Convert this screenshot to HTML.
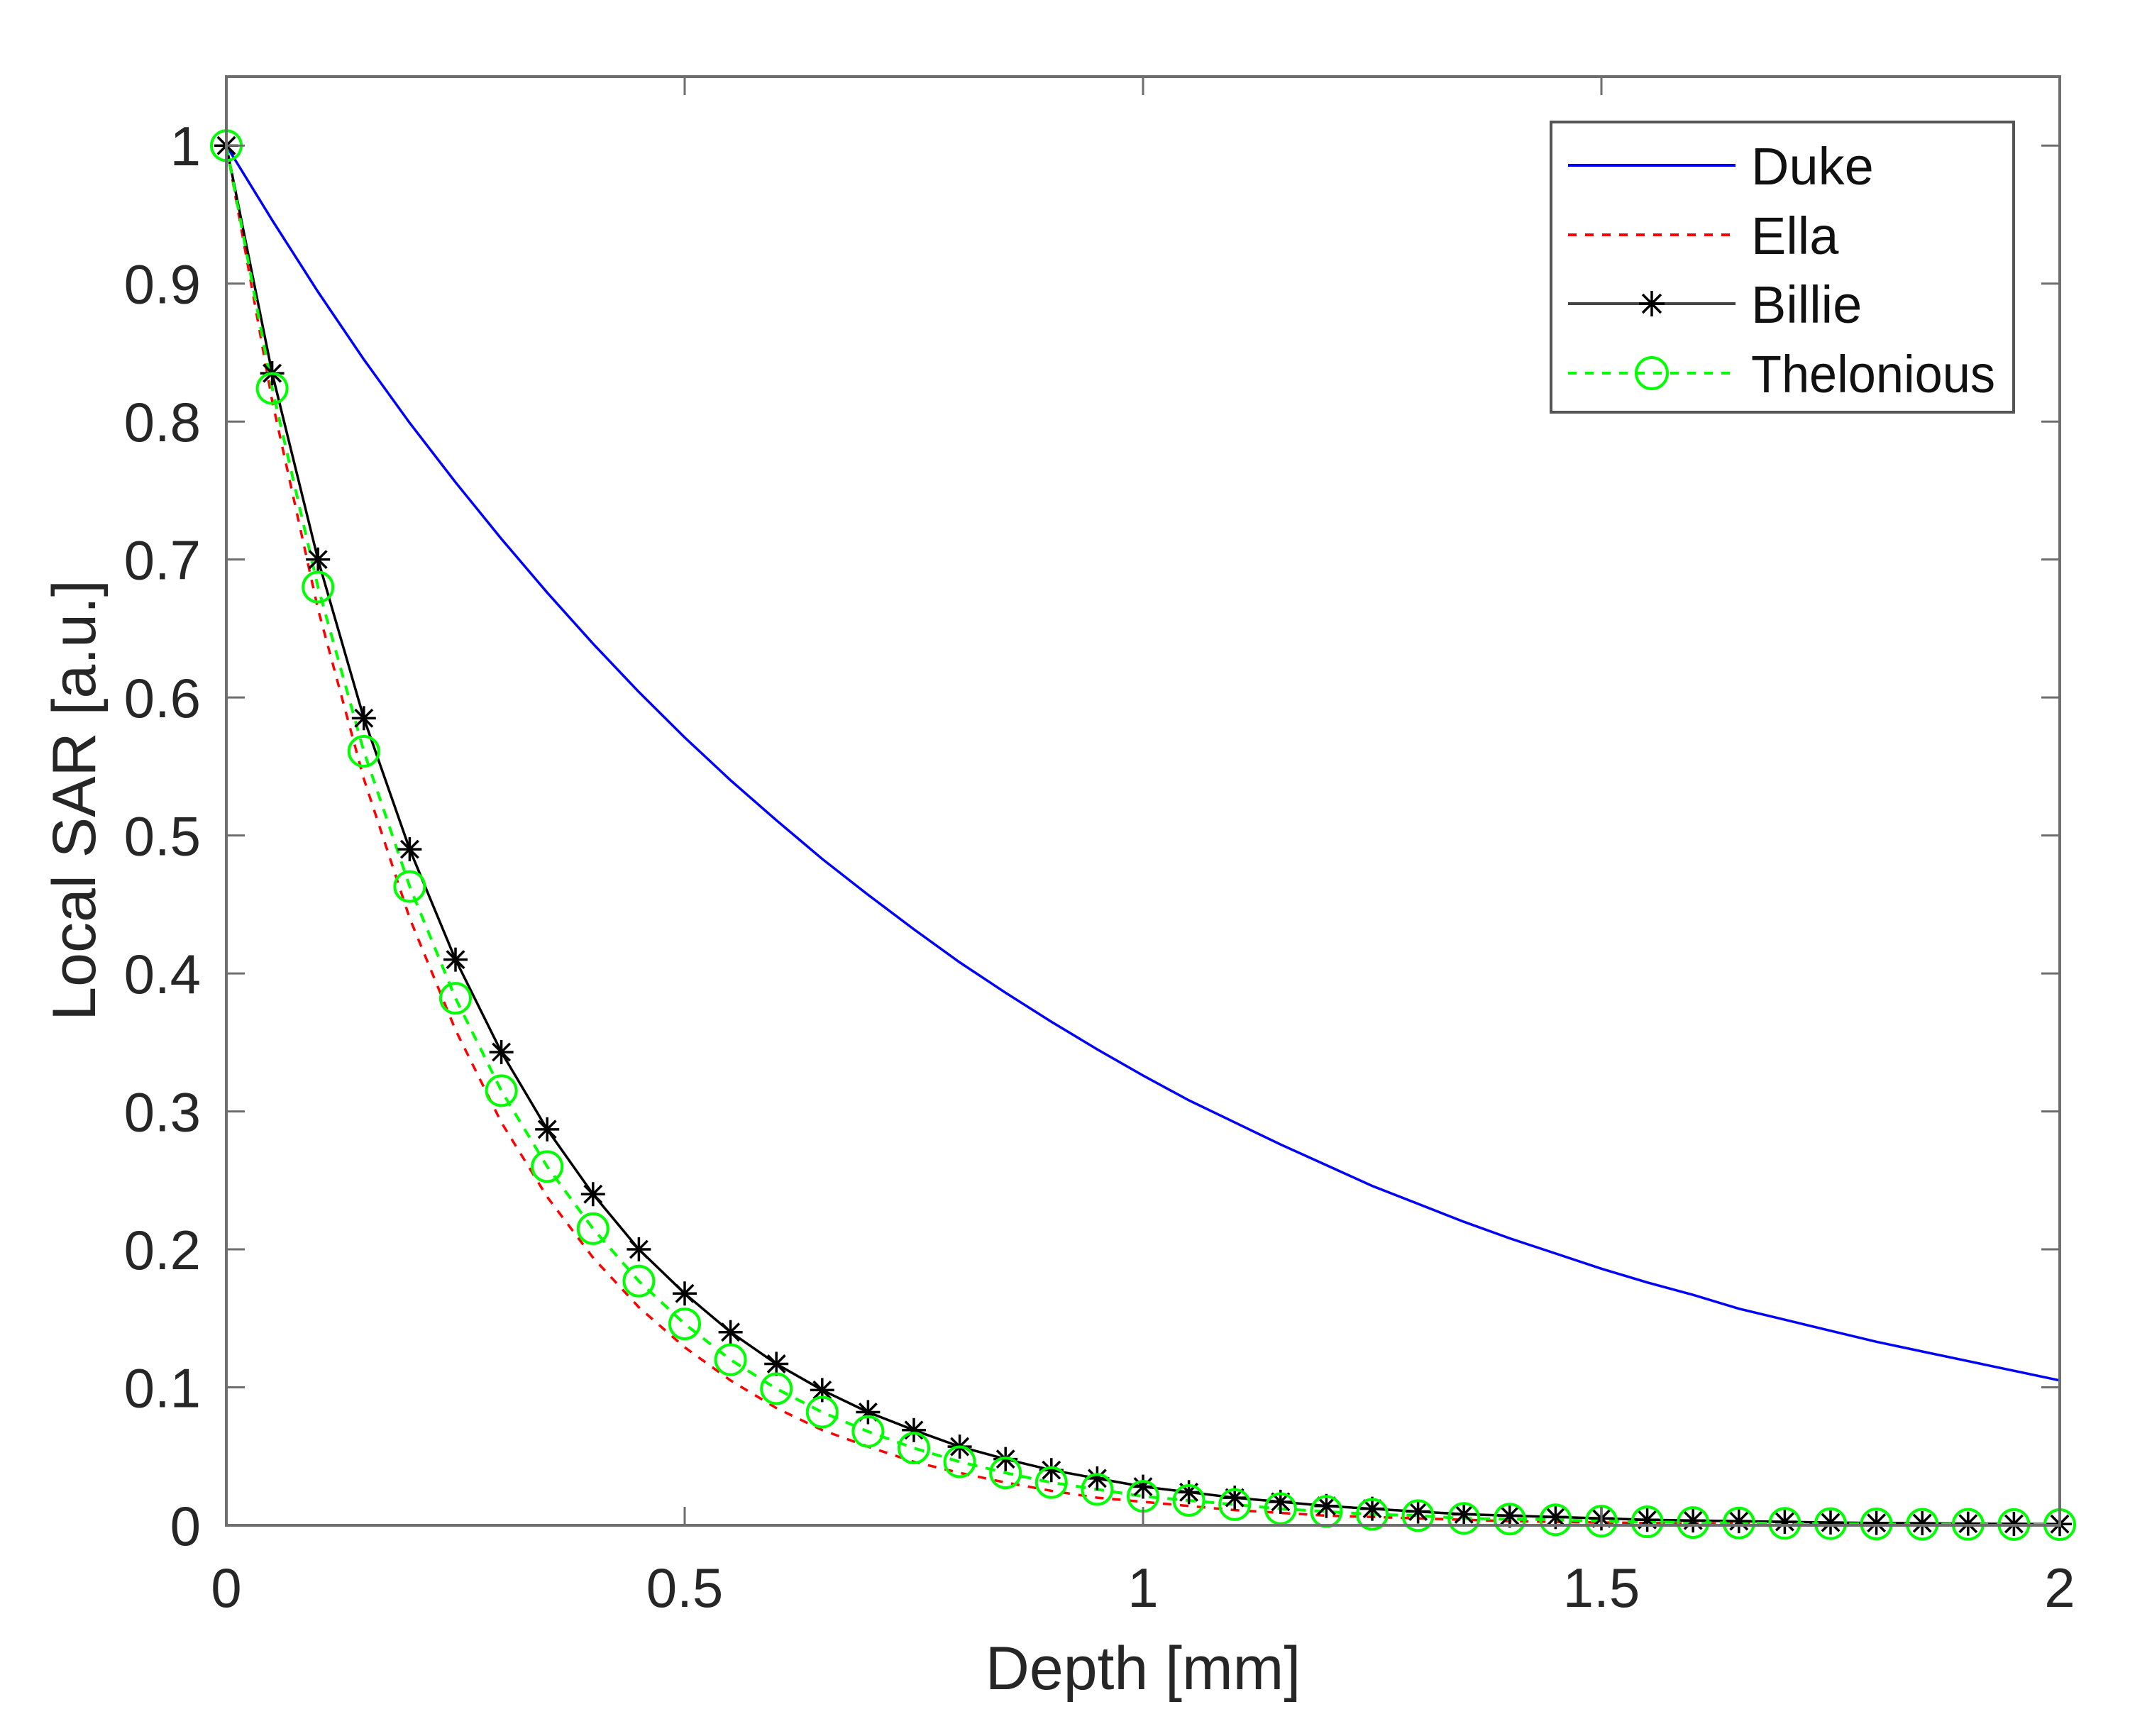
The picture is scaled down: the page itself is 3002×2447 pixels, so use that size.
<!DOCTYPE html>
<html><head><meta charset="utf-8"><title>Local SAR vs Depth</title>
<style>
html,body{margin:0;padding:0;background:#fff;}
svg{display:block;font-family:"Liberation Sans",Arial,sans-serif;}
</style></head>
<body>
<svg id="chart" width="3002" height="2447" viewBox="0 0 3002 2447" xmlns="http://www.w3.org/2000/svg">
<rect x="0" y="0" width="3002" height="2447" fill="#fff"/>
<g id="plot"></g>
<g id="axes"></g>
<text x="1611" y="2381" font-size="86" text-anchor="middle" fill="#262626">Depth [mm]</text>
<text x="0" y="0" font-size="86" text-anchor="middle" fill="#262626" transform="translate(134,1128) rotate(-90)">Local SAR [a.u.]</text>
<g id="legend"></g>
</svg>
<script>
const depth = [0,0.05,0.1,0.15,0.2,0.25,0.3,0.35,0.4,0.45,0.5,0.55,0.6,0.65,0.7,0.75,0.8,0.85,0.9,0.95,1,1.05,1.1,1.15,1.2,1.25,1.3,1.35,1.4,1.45,1.5,1.55,1.6,1.65,1.7,1.75,1.8,1.85,1.9,1.95,2];
const duke = [1,0.946,0.894,0.845,0.799,0.756,0.715,0.676,0.639,0.604,0.571,0.540,0.511,0.483,0.457,0.432,0.408,0.386,0.365,0.345,0.326,0.308,0.292,0.276,0.261,0.246,0.233,0.220,0.208,0.197,0.186,0.176,0.167,0.157,0.149,0.141,0.133,0.126,0.119,0.112,0.105];
const ella = [1,0.815,0.664,0.541,0.440,0.359,0.292,0.238,0.194,0.158,0.129,0.105,0.085,0.069,0.057,0.046,0.038,0.031,0.025,0.020,0.017,0.014,0.011,0.009,0.007,0.006,0.005,0.004,0.003,0.0025,0.002,0.0017,0.0014,0.0011,0.0009,0.0007,0.0006,0.0005,0.0004,0.0003,0.0003];
const billie = [1,0.835,0.700,0.585,0.490,0.410,0.343,0.287,0.240,0.200,0.168,0.140,0.117,0.098,0.082,0.069,0.057,0.048,0.040,0.034,0.028,0.024,0.020,0.017,0.014,0.012,0.010,0.008,0.007,0.006,0.005,0.004,0.0035,0.003,0.0025,0.002,0.0017,0.0015,0.0012,0.001,0.0009];
const thelonious = [1,0.824,0.680,0.561,0.463,0.382,0.315,0.260,0.215,0.177,0.146,0.120,0.099,0.082,0.068,0.056,0.046,0.038,0.031,0.026,0.021,0.018,0.015,0.012,0.010,0.008,0.007,0.005,0.0045,0.004,0.003,0.0025,0.002,0.0017,0.0014,0.0012,0.001,0.0008,0.0007,0.0006,0.0005];
const xTicks = [0,0.5,1,1.5,2];
const xTickLabels = ["0","0.5","1","1.5","2"];
const yTicks = [0,0.1,0.2,0.3,0.4,0.5,0.6,0.7,0.8,0.9,1];
const yTickLabels = ["0","0.1","0.2","0.3","0.4","0.5","0.6","0.7","0.8","0.9","1"];
const seriesNames = ["Duke","Ella","Billie","Thelonious"];

const NS = "http://www.w3.org/2000/svg";
const L = 319, R = 2903, T = 108, B = 2150;
const xMin = 0, xMax = 2, yMin = 0, yMax = 1.05;
function xs(v){ return L + (v - xMin) / (xMax - xMin) * (R - L); }
function ys(v){ return B - (v - yMin) / (yMax - yMin) * (B - T); }
function mk(tag, attrs, parent){
  const e = document.createElementNS(NS, tag);
  for (const k in attrs) e.setAttribute(k, attrs[k]);
  parent.appendChild(e);
  return e;
}
const plot = document.getElementById('plot');
const axes = document.getElementById('axes');
const legend = document.getElementById('legend');

function pathFor(ys_){ return depth.map((d,i)=>(i?'L':'M')+xs(d).toFixed(1)+','+ys(ys_[i]).toFixed(1)).join(' '); }

let p;
p = mk('path', {d: pathFor(duke), fill:'none', stroke:'#0000ff', 'stroke-width':3.5}, plot);


p = mk('path', {d: pathFor(ella), fill:'none', stroke:'#ff0000', 'stroke-width':3.5, 'stroke-dasharray':'12 12'}, plot);


p = mk('path', {d: pathFor(billie), fill:'none', stroke:'#000', 'stroke-width':3.5}, plot);


p = mk('path', {d: pathFor(thelonious), fill:'none', stroke:'#00ff00', 'stroke-width':4, 'stroke-dasharray':'14 12'}, plot);



function asterisk(cx, cy, r, parent){
  const g = mk('g', {stroke:'#000', 'stroke-width':3.5, fill:'none'}, parent);
  mk('line', {x1:cx-r, y1:cy, x2:cx+r, y2:cy}, g);
  mk('line', {x1:cx, y1:cy-r, x2:cx, y2:cy+r}, g);
  const d = r*0.72;
  mk('line', {x1:cx-d, y1:cy-d, x2:cx+d, y2:cy+d}, g);
  mk('line', {x1:cx-d, y1:cy+d, x2:cx+d, y2:cy-d}, g);
  return g;
}
depth.forEach((d,i)=>{
  const g = asterisk(xs(d), ys(billie[i]), 17, plot);
  
  
});
depth.forEach((d,i)=>{
  const c = mk('circle', {cx:xs(d), cy:ys(thelonious[i]), r:21, fill:'none', stroke:'#00ff00', 'stroke-width':4}, plot);
  
  
});

const AX = '#6e6e6e';
const box = mk('rect', {x:L, y:T, width:R-L, height:B-T, fill:'none', stroke:AX, 'stroke-width':4}, axes);


const TL = 26;
xTicks.forEach((v,i)=>{
  const x = xs(v);
  mk('line', {x1:x, y1:B, x2:x, y2:B-TL, stroke:AX, 'stroke-width':3}, axes);
  mk('line', {x1:x, y1:T, x2:x, y2:T+TL, stroke:AX, 'stroke-width':3}, axes);
  const t = mk('text', {x:x, y:2265, 'font-size':78, 'text-anchor':'middle', fill:'#262626'}, axes);
  t.textContent = xTickLabels[i];
  
  
});
yTicks.forEach((v,i)=>{
  const y = ys(v);
  mk('line', {x1:L, y1:y, x2:L+TL, y2:y, stroke:AX, 'stroke-width':3}, axes);
  mk('line', {x1:R, y1:y, x2:R-TL, y2:y, stroke:AX, 'stroke-width':3}, axes);
  const t = mk('text', {x:283, y:y+28, 'font-size':78, 'text-anchor':'end', fill:'#262626'}, axes);
  t.textContent = yTickLabels[i];
  
  
});

const lb = mk('rect', {x:2186, y:172, width:652, height:409, fill:'#fff', stroke:'#555', 'stroke-width':4}, legend);


const rowsY = [233, 331, 428, 526];
const lx1 = 2210, lx2 = 2446, lmid = 2328;
seriesNames.forEach((n,i)=>{
  const y = rowsY[i];
  const g = mk('g', {}, legend);
  
  
  if (i===0) mk('line', {x1:lx1, y1:y, x2:lx2, y2:y, stroke:'#0000ff', 'stroke-width':4}, g);
  if (i===1) mk('line', {x1:lx1, y1:y, x2:lx2, y2:y, stroke:'#ff0000', 'stroke-width':4, 'stroke-dasharray':'12 12'}, g);
  if (i===2){ mk('line', {x1:lx1, y1:y, x2:lx2, y2:y, stroke:'#444', 'stroke-width':4}, g); asterisk(lmid, y, 18, g); }
  if (i===3){ mk('line', {x1:lx1, y1:y, x2:lx2, y2:y, stroke:'#00ff00', 'stroke-width':4, 'stroke-dasharray':'12 12'}, g); mk('circle', {cx:lmid, cy:y, r:22, fill:'none', stroke:'#00ff00', 'stroke-width':4}, g); }
  const attrs = {x:2468, y:y+27, 'font-size':74, fill:'#111'};
  if (i===3){ attrs.textLength = 344; attrs.lengthAdjust = 'spacingAndGlyphs'; }
  const t = mk('text', attrs, g);
  t.textContent = n;
  
  
});
</script>
</body></html>
